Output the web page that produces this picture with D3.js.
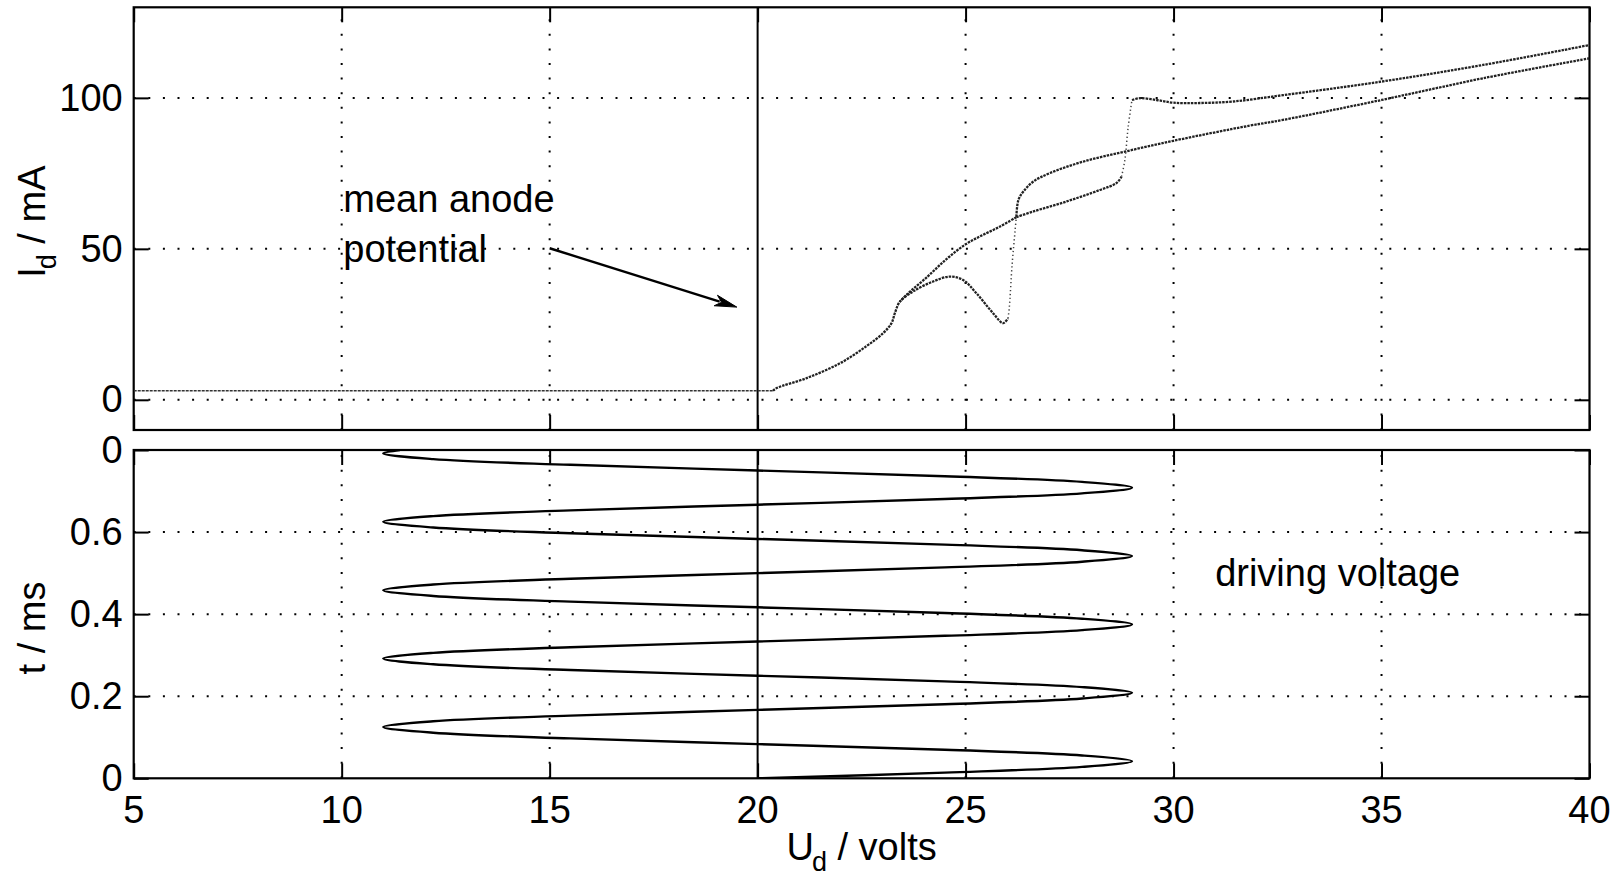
<!DOCTYPE html>
<html>
<head>
<meta charset="utf-8">
<script src="https://cdn.jsdelivr.net/npm/d3@7"></script>
<style>
  html, body { margin: 0; padding: 0; background: #fff; }
  svg text { font-family: "Liberation Sans", Arial, Helvetica, sans-serif; fill: #000; }
</style>
</head>
<body>
<svg id="chart" width="1619" height="882"></svg>
<script>
// ---------------- DATA ----------------
const xTicks = [5, 10, 15, 20, 25, 30, 35, 40];
const topYTicks = [0, 50, 100];
const topYTickLabels = ["0", "50", "100"];
const botYTicks = [0, 0.2, 0.4, 0.6, 0.8];
const botYTickLabels = ["0", "0.2", "0.4", "0.6", "0"];

// anode current trace U_d [V], I_d [mA]
const flatU = [5, 20.37];
const flatI = [3.0, 3.0];
// rising sweep (segments)
const riseU1 = [20.37, 20.46, 21.18, 21.98, 22.62, 23.02, 23.22, 23.30, 23.42, 23.74, 24.22, 24.62, 24.94, 25.26, 25.66, 25.90, 26.02];
const riseI1 = [3.0, 3.9, 7.2, 12.1, 17.8, 22.1, 25.4, 28.7, 32.5, 35.9, 39.2, 40.8, 39.7, 35.3, 28.7, 25.4, 27.0];
const jump1U = [26.02, 26.05, 26.12, 26.19, 26.22];
const jump1I = [27.0, 30.4, 45.0, 56.0, 60.5];
const riseU2 = [26.22, 26.63, 27.43, 28.23, 28.63, 28.75];
const riseI2 = [60.5, 62.4, 65.7, 69.5, 71.8, 73.9];
const jump2U = [28.75, 28.83, 28.91, 29.0];
const jump2I = [73.9, 79.5, 90.5, 99.3];
const riseU3 = [29.0, 29.19, 29.59, 30.0, 30.63, 31.43, 32.63, 35.0, 37.44, 40.0];
const riseI3 = [99.3, 99.9, 99.3, 98.4, 98.3, 98.8, 100.9, 105.4, 110.9, 117.5];
// falling sweep
const fallU1 = [40.0, 37.44, 35.0, 32.63, 31.83, 30.0, 28.83, 27.83, 27.03, 26.63, 26.39, 26.27, 26.22];
const fallI1 = [113.1, 106.5, 99.3, 92.7, 90.8, 85.8, 82.2, 78.9, 75.1, 72.3, 69.0, 66.2, 60.5];
const fallU2 = [26.22, 25.83, 25.4, 25.0, 24.54, 24.06, 23.58, 23.42];
const fallI2 = [60.5, 57.4, 54.5, 51.5, 46.6, 40.5, 34.8, 32.5];

// driving voltage vs time: t [ms], U [V]
const driveT = [0, 0.0139, 0.0278, 0.0417, 0.0556, 0.0694, 0.0833, 0.0972, 0.1111, 0.125, 0.1389, 0.1528,
  0.1667, 0.1806, 0.1944, 0.2083, 0.2222, 0.2361, 0.25, 0.2639, 0.2778, 0.2917, 0.3056, 0.3194,
  0.3333, 0.3472, 0.3611, 0.375, 0.3889, 0.4028, 0.4167, 0.4306, 0.4444, 0.4583, 0.4722, 0.4861,
  0.5, 0.5139, 0.5278, 0.5417, 0.5556, 0.5694, 0.5833, 0.5972, 0.6111, 0.625, 0.6389, 0.6528,
  0.6667, 0.6806, 0.6944, 0.7083, 0.7222, 0.7361, 0.75, 0.7639, 0.7778, 0.7917, 0.8];
const driveU = [20, 24.5, 27.8, 29, 27.8, 24.5, 20, 15.5, 12.2, 11, 12.2, 15.5,
  20, 24.5, 27.8, 29, 27.8, 24.5, 20, 15.5, 12.2, 11, 12.2, 15.5,
  20, 24.5, 27.8, 29, 27.8, 24.5, 20, 15.5, 12.2, 11, 12.2, 15.5,
  20, 24.5, 27.8, 29, 27.8, 24.5, 20, 15.5, 12.2, 11, 12.2, 15.5,
  20, 24.5, 27.8, 29, 27.8, 24.5, 20, 15.5, 12.2, 11, 11.4];

const meanAnodeU = 20;
const annText1 = "mean anode", annText2 = "potential";
const annPos = { u: 10.04, i1: 62.2, i2: 45.6 };
const arrowFrom = [15.0, 50.2], arrowTo = [19.5, 30.7];
const driveLabel = "driving voltage";
const driveLabelPos = [31.0, 0.468];

// ---------------- LAYOUT ----------------
const svg = d3.select("#chart");
const L = 133.7, R = 1589.5;
const topP = { t: 7.3, b: 430 };
const botP = { t: 450, b: 778.3 };
const FS = 38, SUB = 27, TICK = 15;

const x = d3.scaleLinear().domain([5, 40]).range([L, R]);
const yTop = d3.scaleLinear().domain([-10, 130]).range([topP.b, topP.t]);
const yBot = d3.scaleLinear().domain([0, 0.8]).range([botP.b, botP.t]);

const zip = (a, b) => a.map((v, i) => [v, b[i]]);

function panel(yScale, yTicks, yLabels, P) {
  const g = svg.append("g");
  // grid
  const grid = g.append("g").attr("stroke", "#000").attr("stroke-width", 2)
    .attr("stroke-dasharray", "2,12.6").attr("fill", "none");
  xTicks.filter(v => v > 5 && v < 40 && v !== meanAnodeU).forEach(v => {
    grid.append("line").attr("x1", x(v)).attr("x2", x(v)).attr("y1", P.b).attr("y2", P.t);
  });
  yTicks.forEach(v => {
    const yy = yScale(v);
    if (yy > P.t + 2 && yy < P.b - 2)
      grid.append("line").attr("x1", L).attr("x2", R).attr("y1", yy).attr("y2", yy);
  });
  // axes (inward ticks, all four sides)
  const axB = d3.axisBottom(x).tickValues(xTicks).tickSizeInner(-TICK).tickSizeOuter(0).tickFormat("");
  const axT = d3.axisTop(x).tickValues(xTicks).tickSizeInner(-TICK).tickSizeOuter(0).tickFormat("");
  const axL = d3.axisLeft(yScale).tickValues(yTicks).tickSizeInner(-TICK).tickSizeOuter(0)
    .tickFormat((d, i) => yLabels[i]).tickPadding(11);
  const axR = d3.axisRight(yScale).tickValues(yTicks).tickSizeInner(-TICK).tickSizeOuter(0).tickFormat("");
  [[axB, `translate(0,${P.b})`], [axT, `translate(0,${P.t})`], [axL, `translate(${L},0)`], [axR, `translate(${R},0)`]]
    .forEach(([ax, tr]) => {
      const a = g.append("g").attr("transform", tr).call(ax);
      a.select(".domain").remove();
      a.selectAll("line").attr("stroke", "#000").attr("stroke-width", 2);
      a.selectAll("text").attr("font-size", FS).attr("font-family", "Liberation Sans, Arial, sans-serif")
        .attr("fill", "#000");
    });
  // frame
  g.append("rect").attr("x", L).attr("y", P.t).attr("width", R - L).attr("height", P.b - P.t)
    .attr("fill", "none").attr("stroke", "#000").attr("stroke-width", 2.2);
  // mean anode potential line
  g.append("line").attr("x1", x(meanAnodeU)).attr("x2", x(meanAnodeU)).attr("y1", P.t).attr("y2", P.b)
    .attr("stroke", "#000").attr("stroke-width", 2);
  return g;
}

const gTop = panel(yTop, topYTicks, topYTickLabels, topP);
const gBot = panel(yBot, botYTicks, botYTickLabels, botP);

// bottom panel x tick labels
gBot.append("g").selectAll("text").data(xTicks).join("text")
  .attr("x", d => x(d)).attr("y", 823).attr("text-anchor", "middle").attr("font-size", FS)
  .text(d => d);

// ---------------- TOP PANEL TRACE ----------------
const lineTop = d3.line().x(d => x(d[0])).y(d => yTop(d[1])).curve(d3.curveCatmullRom.alpha(0.5));
const lineFlat = d3.line().x(d => x(d[0])).y(d => yTop(d[1]));
svg.append("clipPath").attr("id", "ct").append("rect")
  .attr("x", L).attr("y", topP.t).attr("width", R - L).attr("height", topP.b - topP.t);
const trace = gTop.append("g").attr("clip-path", "url(#ct)").attr("fill", "none");
trace.append("path").attr("d", lineFlat(zip(flatU, flatI)))
  .attr("stroke", "#333").attr("stroke-width", 1.5).attr("stroke-dasharray", "3,1");
[[riseU1, riseI1], [riseU2, riseI2], [riseU3, riseI3], [fallU1, fallI1], [fallU2, fallI2]].forEach(([u, i]) => {
  trace.append("path").attr("d", lineTop(zip(u, i)))
    .attr("stroke", "#222").attr("stroke-width", 2.3).attr("stroke-dasharray", "2.5,1");
});
[[jump1U, jump1I], [jump2U, jump2I]].forEach(([u, i]) => {
  trace.append("path").attr("d", lineTop(zip(u, i)))
    .attr("stroke", "#444").attr("stroke-width", 1.5).attr("stroke-dasharray", "1.3,2.6");
});

// annotation
gTop.append("text").attr("x", x(annPos.u)).attr("y", yTop(annPos.i1)).attr("font-size", FS).text(annText1);
gTop.append("text").attr("x", x(annPos.u)).attr("y", yTop(annPos.i2)).attr("font-size", FS).text(annText2);
{
  const x1 = x(arrowFrom[0]), y1 = yTop(arrowFrom[1]), x2 = x(arrowTo[0]), y2 = yTop(arrowTo[1]);
  const ang = Math.atan2(y2 - y1, x2 - x1), len = 22, hw = 5.5;
  const bx = x2 - len * Math.cos(ang), by = y2 - len * Math.sin(ang);
  gTop.append("line").attr("x1", x1).attr("y1", y1).attr("x2", bx + 4 * Math.cos(ang)).attr("y2", by + 4 * Math.sin(ang))
    .attr("stroke", "#000").attr("stroke-width", 2.4);
  const px = -Math.sin(ang), py = Math.cos(ang);
  gTop.append("path").attr("d", `M${x2},${y2}L${bx + hw * px},${by + hw * py}L${bx + 6 * Math.cos(ang)},${by + 6 * Math.sin(ang)}L${bx - hw * px},${by - hw * py}Z`)
    .attr("fill", "#000").attr("stroke", "#000").attr("stroke-width", 1);
}

// ---------------- BOTTOM PANEL DRIVE ----------------
const lineBot = d3.line().x(d => x(d[0])).y(d => yBot(d[1])).curve(d3.curveCatmullRom.alpha(0.5));
svg.append("clipPath").attr("id", "cb").append("rect")
  .attr("x", L).attr("y", botP.t).attr("width", R - L).attr("height", botP.b - botP.t);
gBot.append("path").attr("clip-path", "url(#cb)").attr("d", lineBot(zip(driveU, driveT)))
  .attr("fill", "none").attr("stroke", "#000").attr("stroke-width", 2.4);
gBot.append("text").attr("x", x(driveLabelPos[0])).attr("y", yBot(driveLabelPos[1])).attr("font-size", FS).text(driveLabel);

// ---------------- AXIS LABELS ----------------
function labelWithSub(parent, main, sub, rest) {
  const t = parent.append("text").attr("font-size", FS);
  t.append("tspan").text(main);
  t.append("tspan").attr("font-size", SUB).attr("dy", 11).attr("dx", -2).text(sub);
  t.append("tspan").attr("dy", -11).text(rest);
  return t;
}
labelWithSub(svg.append("g").attr("transform", `translate(45,${(topP.t + topP.b) / 2 + 3}) rotate(-90)`), "I", "d", " / mA")
  .attr("text-anchor", "middle");
svg.append("text").attr("font-size", FS).attr("text-anchor", "middle")
  .attr("transform", `translate(45,628) rotate(-90)`).text("t / ms");
labelWithSub(svg.append("g").attr("transform", `translate(${(L + R) / 2},860)`), "U", "d", " / volts")
  .attr("text-anchor", "middle");
</script>
</body>
</html>
